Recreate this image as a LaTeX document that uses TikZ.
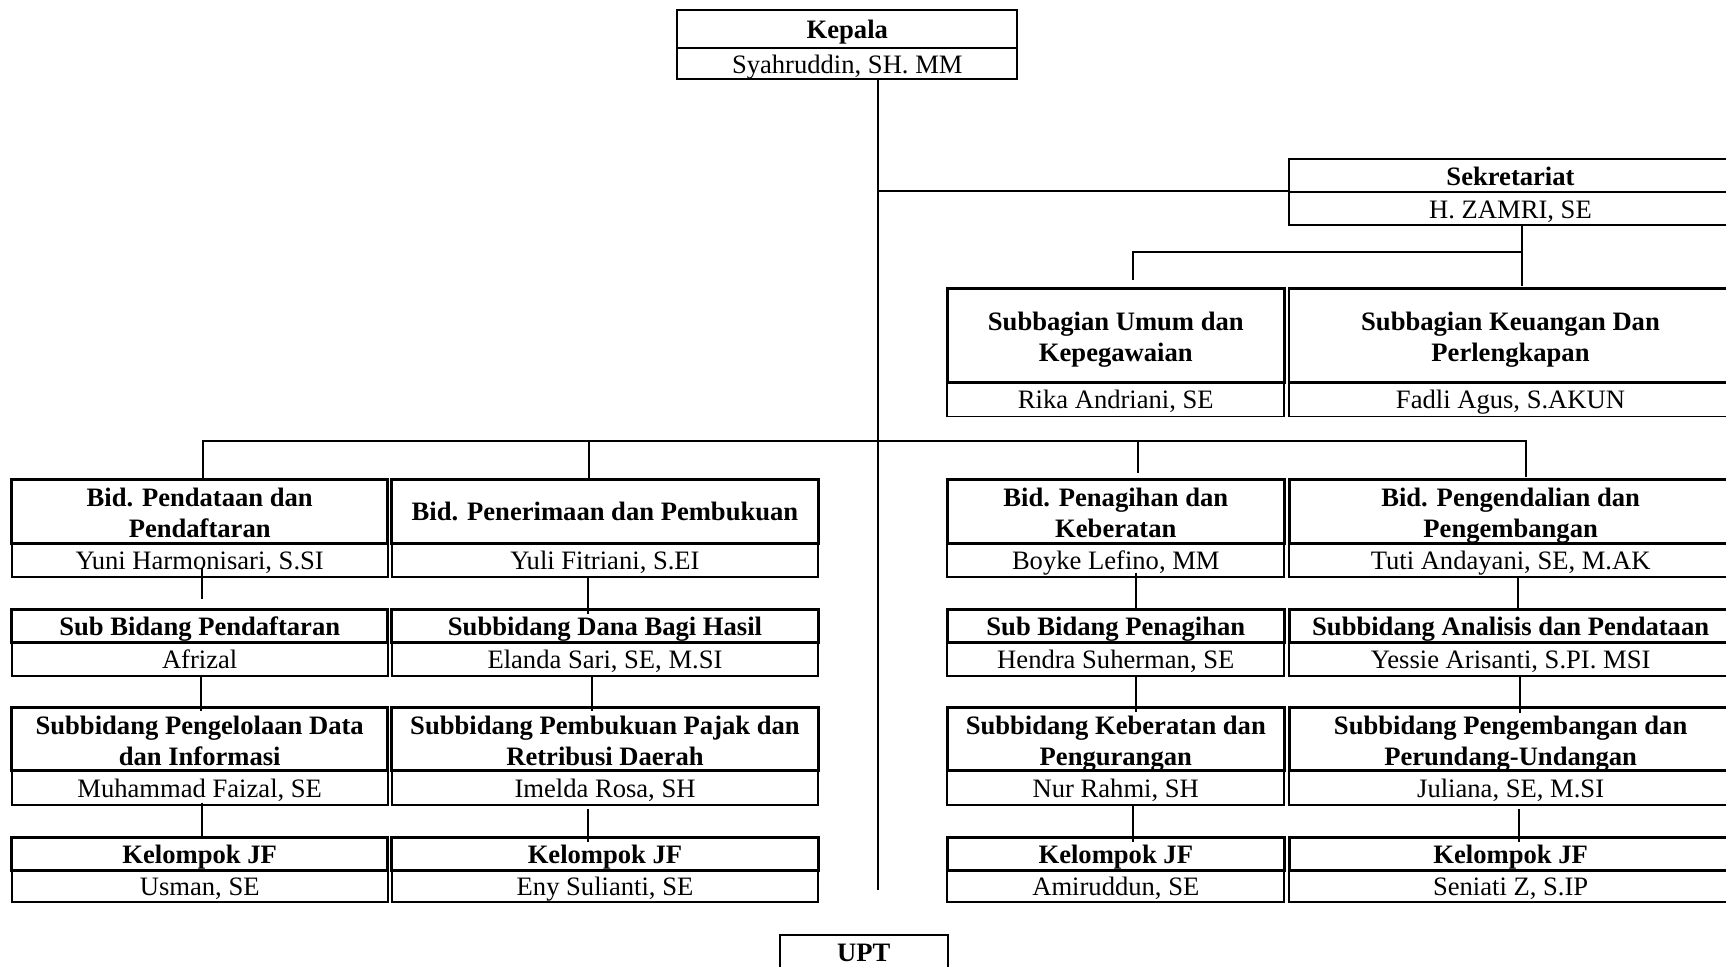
\documentclass[tikz,border=0pt]{standalone}
\usepackage{fontspec}
\setmainfont{Liberation Serif}
\usetikzlibrary{calc}
\newcommand\orgTF{\fontsize{13.3pt}{15.5pt}\selectfont\bfseries}
\newcommand\orgNF{\fontsize{13.3pt}{15.5pt}\selectfont}
\newcommand\twol[2]{\rule{0pt}{12.9pt}\smash{#1}\\\smash{#2}\rule[-2pt]{0pt}{2pt}}
% name, style, x1, y1, x2, y2, text
\newcommand\orgbox[7]{\node[#2, minimum width={(#5-#3)*0.5pt}, minimum height={(#6-#4)*0.5pt}] (#1) at ({(#3+#5)/2},{(#4+#6)/2}) {#7};}
\begin{document}
\begin{tikzpicture}[x=0.5pt,y=-0.5pt,
  ttl/.style={draw, line width=1.35pt, font=\orgTF, align=center, inner sep=0pt, text height=11.3pt, text depth=2pt},
  nm/.style={draw, line width=0.85pt, font=\orgNF, align=center, inner sep=0pt, text height=11.3pt, text depth=2pt},
  two/.style={text height={}, text depth={}},
  low/.style={text height=11pt, text depth=0.8pt},
  thin/.style={line width=1pt},
  conn/.style={line width=1pt}]
\useasboundingbox (0,0) rectangle (1726,967);

% Kepala
\orgbox{kepT}{ttl,thin}{677.3}{10}{1017.3}{48.3}{Kepala}
\orgbox{kepN}{nm,thin}{677.3}{48.3}{1017.3}{79.3}{Syahruddin, SH. MM}

% Sekretariat
\orgbox{sekT}{ttl,line width=1.15pt,low}{1289}{159.3}{1732}{192.3}{Sekretariat}
\orgbox{sekN}{nm,low}{1289}{192.3}{1732}{225}{H. ZAMRI, SE}

% Subbagian
\orgbox{umT}{ttl,two}{947.3}{288.5}{1284.3}{382.5}{\twol{Subbagian Umum dan}{Kepegawaian}}
\orgbox{umN}{nm}{947.3}{382.5}{1284.3}{416.5}{Rika Andriani, SE}
\orgbox{keuT}{ttl,two}{1289}{288.5}{1732}{382.5}{\twol{Subbagian Keuangan Dan}{Perlengkapan}}
\orgbox{keuN}{nm}{1289}{382.5}{1732}{416.5}{Fadli Agus, S.AKUN}

% Row A
\orgbox{a1t}{ttl,two}{11.7}{479.3}{387.7}{543.3}{\twol{Bid. Pendataan dan}{Pendaftaran}}
\orgbox{a1n}{nm}{11.7}{543.3}{387.7}{576.7}{Yuni Harmonisari, S.SI}
\orgbox{a2t}{ttl}{391.7}{479.3}{818.3}{543.3}{Bid. Penerimaan dan Pembukuan}
\orgbox{a2n}{nm}{391.7}{543.3}{818.3}{576.7}{Yuli Fitriani, S.EI}
\orgbox{a3t}{ttl,two}{947.3}{479.3}{1284.3}{543.3}{\twol{Bid. Penagihan dan}{Keberatan}}
\orgbox{a3n}{nm}{947.3}{543.3}{1284.3}{576.7}{Boyke Lefino, MM}
\orgbox{a4t}{ttl,two}{1289.3}{479.3}{1732}{543.3}{\twol{Bid. Pengendalian dan}{Pengembangan}}
\orgbox{a4n}{nm}{1289.3}{543.3}{1732}{576.7}{Tuti Andayani, SE, M.AK}

% Row B
\orgbox{b1t}{ttl}{11.7}{609.5}{387.7}{642.3}{Sub Bidang Pendaftaran}
\orgbox{b1n}{nm}{11.7}{642.3}{387.7}{675.7}{Afrizal}
\orgbox{b2t}{ttl}{391.7}{609.5}{818.3}{642.3}{Subbidang Dana Bagi Hasil}
\orgbox{b2n}{nm}{391.7}{642.3}{818.3}{675.7}{Elanda Sari, SE, M.SI}
\orgbox{b3t}{ttl}{947.3}{609.5}{1284.3}{642.3}{Sub Bidang Penagihan}
\orgbox{b3n}{nm}{947.3}{642.3}{1284.3}{675.7}{Hendra Suherman, SE}
\orgbox{b4t}{ttl}{1289.3}{609.5}{1732}{642.3}{Subbidang Analisis dan Pendataan}
\orgbox{b4n}{nm}{1289.3}{642.3}{1732}{675.7}{Yessie Arisanti, S.PI. MSI}

% Row C
\orgbox{c1t}{ttl,two}{11.7}{707.3}{387.7}{770.7}{\twol{Subbidang Pengelolaan Data}{dan Informasi}}
\orgbox{c1n}{nm}{11.7}{770.7}{387.7}{805}{Muhammad Faizal, SE}
\orgbox{c2t}{ttl,two}{391.7}{707.3}{818.3}{770.7}{\twol{Subbidang Pembukuan Pajak dan}{Retribusi Daerah}}
\orgbox{c2n}{nm}{391.7}{770.7}{818.3}{805}{Imelda Rosa, SH}
\orgbox{c3t}{ttl,two}{947.3}{707.3}{1284.3}{770.7}{\twol{Subbidang Keberatan dan}{Pengurangan}}
\orgbox{c3n}{nm}{947.3}{770.7}{1284.3}{805}{Nur Rahmi, SH}
\orgbox{c4t}{ttl,two}{1289.3}{707.3}{1732}{770.7}{\twol{Subbidang Pengembangan dan}{Perundang-Undangan}}
\orgbox{c4n}{nm}{1289.3}{770.7}{1732}{805}{Juliana, SE, M.SI}

% Row D
\orgbox{d1t}{ttl}{11.7}{837.5}{387.7}{870.7}{Kelompok JF}
\orgbox{d1n}{nm}{11.7}{870.7}{387.7}{902.3}{Usman, SE}
\orgbox{d2t}{ttl}{391.7}{837.5}{818.3}{870.7}{Kelompok JF}
\orgbox{d2n}{nm}{391.7}{870.7}{818.3}{902.3}{Eny Sulianti, SE}
\orgbox{d3t}{ttl}{947.3}{837.5}{1284.3}{870.7}{Kelompok JF}
\orgbox{d3n}{nm}{947.3}{870.7}{1284.3}{902.3}{Amiruddun, SE}
\orgbox{d4t}{ttl}{1289.3}{837.5}{1732}{870.7}{Kelompok JF}
\orgbox{d4n}{nm}{1289.3}{870.7}{1732}{902.3}{Seniati Z, S.IP}

% UPT
\orgbox{upt}{ttl,thin}{780}{935}{947.5}{970}{UPT}

% coordinates
\coordinate (trunkEnd) at (877.5,890);
\coordinate (busL) at (203.3,441.5);
\coordinate (busR) at (1526,441.5);
\coordinate (sekBus) at (1521.7,251.7);

% connectors
\draw[conn] (kepN.south -| trunkEnd) -- (trunkEnd);
\draw[conn] ([yshift=1.3pt]sekT.south west) -- ([yshift=1.3pt]sekT.south west -| trunkEnd);
\draw[conn] (sekN.south -| sekBus) -- ([yshift=0.6pt]keuT.north -| sekBus);
\draw[conn] (sekBus) -| ([yshift=3.6pt]umT.north -| 1132.7,0);

\draw[conn] (a1t.north -| busL) -- (busL) -- (busR) -- ([yshift=0.4pt]a4t.north -| busR);
\draw[conn] (a2t.north -| 589.3,0) -- (589.3,441.5);
\draw[conn] ([yshift=2.6pt]a3t.north -| 1138.3,0) -- (1138.3,441.5);

\draw[conn, shorten <=-5pt, shorten >=4.7pt] (a1n.south -| 202.3,0) -- (b1t.north -| 202.3,0);
\draw[conn, shorten >=-2.7pt] (a2n.south -| 588.3,0) -- (b2t.north -| 588.3,0);
\draw[conn, shorten <=-2.5pt] (a3n.south -| 1135.7,0) -- (b3t.north -| 1135.7,0);
\draw[conn, shorten >=-1pt] (a4n.south -| 1518.3,0) -- (b4t.north -| 1518.3,0);

\draw[conn, shorten >=-2.4pt] (b1n.south -| 200.7,0) -- (c1t.north -| 200.7,0);
\draw[conn, shorten >=-2.4pt] (b2n.south -| 591.7,0) -- (c2t.north -| 591.7,0);
\draw[conn, shorten >=-2.8pt] (b3n.south -| 1135.7,0) -- (c3t.north -| 1135.7,0);
\draw[conn, shorten >=-3.3pt] (b4n.south -| 1519.8,0) -- (c4t.north -| 1519.8,0);

\draw[conn, shorten <=-1.6pt] (c1n.south -| 202.3,0) -- (d1t.north -| 202.3,0);
\draw[conn, shorten <=1.5pt, shorten >=-2.7pt] (c2n.south -| 588.3,0) -- (d2t.north -| 588.3,0);
\draw[conn, shorten >=-2.7pt] (c3n.south -| 1132.7,0) -- (d3t.north -| 1132.7,0);
\draw[conn, shorten <=1.6pt, shorten >=-2.9pt] (c4n.south -| 1519.3,0) -- (d4t.north -| 1519.3,0);
\end{tikzpicture}
\end{document}
